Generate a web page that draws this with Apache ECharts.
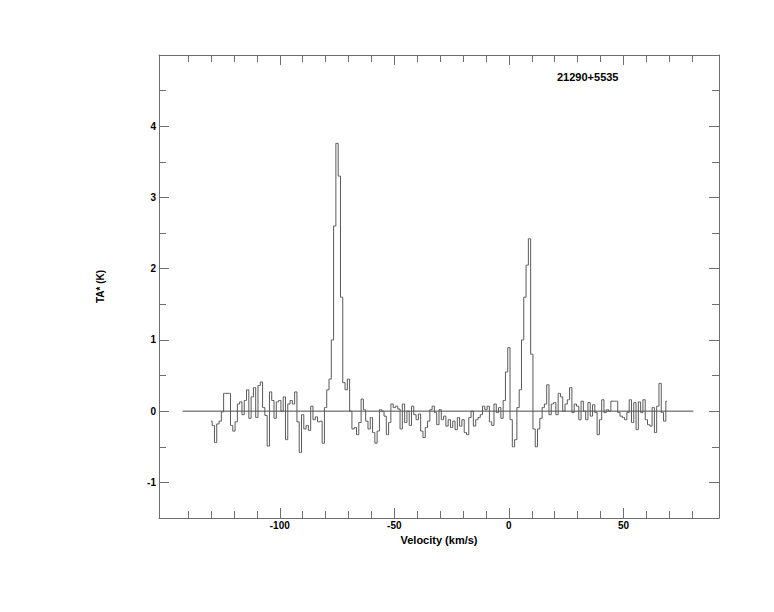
<!DOCTYPE html>
<html><head><meta charset="utf-8">
<script src="https://cdn.jsdelivr.net/npm/echarts@6/dist/echarts.min.js"></script>
<style>html,body{margin:0;padding:0;background:#fff}#c{width:774px;height:612px}</style>
</head><body><div id="c"></div>
<script>
// ---- data ----
const sourceName = '21290+5535';
const xTitle = 'Velocity (km/s)';
const yTitle = 'TA* (K)';
const velStart = -130;   // first channel velocity (km/s)
const velStep = 1;       // channel width (km/s)
const ta = [
  -0.14, -0.2, -0.44, -0.18, -0.14, -0.01, 0.25, 0.25, 0.25, -0.2,
  -0.28, -0.15, 0.1, 0.13, -0.05, 0.15, 0.3, -0.1, 0.2, 0.33,
  -0.09, 0.36, 0.41, 0.05, -0.06, -0.49, 0.27, 0.15, -0.1, 0.13,
  0.15, 0.0, 0.2, -0.4, 0.1, 0.15, 0.1, 0.27, -0.15, -0.58,
  -0.05, -0.25, -0.2, -0.27, 0.07, -0.12, -0.08, -0.15, -0.14, -0.45,
  0.05, 0.3, 0.45, 1.0, 2.6, 3.76, 3.3, 1.6, 0.4, 0.3, 0.45, 0.0,
  -0.25, -0.23, -0.33, -0.16, 0.17, 0.02, -0.14, -0.25, -0.09, -0.3,
  -0.45, -0.28, 0.02, 0.0, -0.07, -0.33, -0.16, 0.1, 0.05, 0.07,
  0.03, -0.25, 0.1, -0.16, 0.0, -0.2, 0.07, -0.05, -0.12, -0.04,
  -0.28, -0.37, -0.23, -0.14, 0.02, 0.07, -0.02, -0.19, 0.02, -0.12,
  -0.07, -0.21, -0.12, -0.23, -0.14, -0.26, -0.09, -0.21, -0.12, -0.3,
  -0.33, -0.09, 0.0, -0.21, -0.12, -0.09, -0.05, 0.07, 0.02, 0.07,
  -0.15, -0.2, 0.1, -0.02, 0.05, -0.1, 0.15, 0.55, 0.89, -0.12,
  -0.5, -0.4, 0.05, 0.3, 1.0, 1.6, 2.05, 2.42, 0.8, -0.25,
  -0.5, -0.25, -0.1, 0.05, 0.1, 0.37, -0.05, 0.1, 0.12, -0.05,
  0.25, 0.2, 0.0, 0.1,
  0.16, 0.33, -0.02, 0.1, 0.07, -0.12, 0.14, 0.0, -0.12, 0.12,
  -0.07, 0.09, -0.02, -0.33, -0.12, 0.16, -0.02, 0.02, 0.0, 0.14,
  0.14, 0.14, -0.02, -0.07, -0.09, -0.12, -0.02, 0.16, -0.16, 0.12,
  -0.26, 0.13, -0.02, 0.16, -0.12, -0.19, -0.21, 0.05, -0.3, 0.07,
  0.39, -0.02, -0.14, 0.14
];
const baselineV = [-142.4, 80.5];
const baselineT = [0, 0];
const xRange = [-152.7, 91.7];
const yRange = [-1.5, 5];
const xMajorTicks = [-100, -50, 0, 50];
const xMinorTicks = [-140, -130, -120, -110, -90, -80, -70, -60, -40, -30, -20, -10, 10, 20, 30, 40, 60, 70, 80];
const yMajorTicks = [-1, 0, 1, 2, 3, 4];
const yMinorTicks = [-0.5, 0.5, 1.5, 2.5, 3.5, 4.5];

// ---- chart ----
const FONT = '"Liberation Sans", Arial, Helvetica, sans-serif';
const FRAME = '#6e6e6e';
const spectrum = ta.map((t, i) => [velStart + i * velStep, t]);
const baseline = baselineV.map((v, i) => [v, baselineT[i]]);

function makeAxis(range, position, ticks, len, showLine, labels, margin) {
  return {
    type: 'value', position, min: range[0], max: range[1],
    axisLine: { show: showLine, onZero: false, lineStyle: { color: FRAME, width: 1 } },
    axisTick: { show: true, inside: true, length: len, customValues: ticks, lineStyle: { color: FRAME, width: 1 } },
    axisLabel: labels ? { show: true, customValues: labels, margin: margin, color: '#000', fontFamily: FONT, fontWeight: 'bold', fontSize: 10 } : { show: false },
    splitLine: { show: false }
  };
}

const xs = [
  makeAxis(xRange, 'bottom', xMajorTicks, 10, true, xMajorTicks, 2),
  makeAxis(xRange, 'bottom', xMinorTicks, 7, false, null),
  makeAxis(xRange, 'top', xMajorTicks, 10, true, null),
  makeAxis(xRange, 'top', xMinorTicks, 7, false, null)
];
Object.assign(xs[0], {
  name: xTitle, nameLocation: 'middle', nameGap: 7,
  nameTextStyle: { color: '#000', fontFamily: FONT, fontWeight: 'bold', fontSize: 11 }
});
const ys = [
  makeAxis(yRange, 'left', yMajorTicks, 10, true, yMajorTicks, 3),
  makeAxis(yRange, 'left', yMinorTicks, 7, false, null),
  makeAxis(yRange, 'right', yMajorTicks, 10, true, null),
  makeAxis(yRange, 'right', yMinorTicks, 7, false, null)
];
Object.assign(ys[0], {
  name: yTitle, nameLocation: 'middle', nameGap: 54,
  nameTextStyle: { color: '#000', fontFamily: FONT, fontWeight: 'bold', fontSize: 10 }
});

const chart = echarts.init(document.getElementById('c'), null, { renderer: 'svg' });
chart.setOption({
  animation: false,
  backgroundColor: '#fff',
  title: {
    text: sourceName, left: 557, top: 71, padding: 0,
    textStyle: { color: '#000', fontFamily: FONT, fontWeight: 'bold', fontSize: 11 }
  },
  grid: { left: 159, right: 55, top: 55, bottom: 94, containLabel: false },
  xAxis: xs,
  yAxis: ys,
  series: [
    {
      type: 'line', data: baseline, xAxisIndex: 0, yAxisIndex: 0,
      showSymbol: false, silent: true,
      lineStyle: { color: '#4a4a4a', width: 1 }
    },
    {
      type: 'line', data: spectrum, xAxisIndex: 0, yAxisIndex: 0,
      step: 'middle', showSymbol: false, silent: true,
      lineStyle: { color: '#5a5a5a', width: 1 }
    }
  ]
});
</script>
</body></html>
